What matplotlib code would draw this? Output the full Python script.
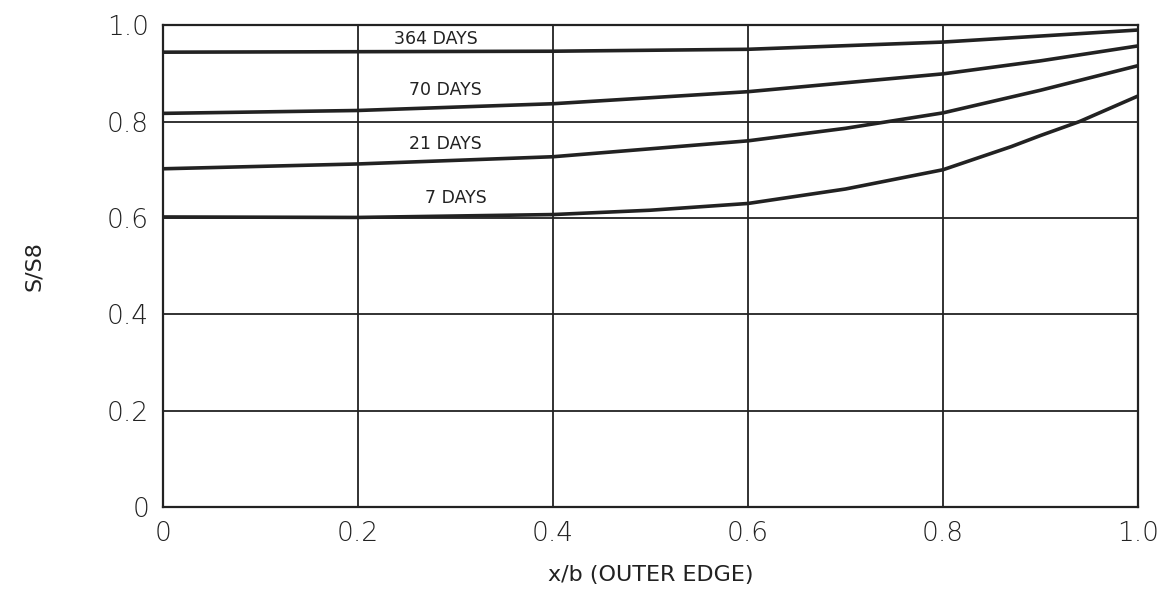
import matplotlib.pyplot as plt

x_364 = [0.0, 0.2, 0.4, 0.6, 0.8, 1.0]
y_364 = [0.944, 0.945, 0.946, 0.950, 0.965, 0.99]

x_70 = [0.0, 0.2, 0.4, 0.6, 0.8, 0.9, 1.0]
y_70 = [0.817, 0.823, 0.837, 0.862, 0.899, 0.926, 0.957]

x_21 = [0.0, 0.2, 0.4, 0.6, 0.7, 0.8, 0.9, 1.0]
y_21 = [0.702, 0.712, 0.727, 0.760, 0.786, 0.818, 0.865, 0.916]

x_7 = [0.0, 0.2, 0.4, 0.5, 0.6, 0.7, 0.8, 0.87, 0.9, 0.94, 1.0]
y_7 = [0.602, 0.601, 0.607, 0.616, 0.630, 0.660, 0.700, 0.748, 0.771, 0.800, 0.853]

labels = ["364 DAYS", "70 DAYS", "21 DAYS", "7 DAYS"]
label_x = [0.28, 0.29, 0.29, 0.30]
label_y = [0.972, 0.865, 0.753, 0.642]

ticks = [0, 0.2, 0.4, 0.6, 0.8, 1.0]
tick_labels = ["0", "0.2", "0.4", "0.6", "0.8", "1.0"]

plt.rcParams['font.family'] = ['DejaVu Sans']

fig = plt.figure(figsize=(11.75, 6), dpi=100)
ax = fig.add_axes([0.1387, 0.155, 0.8298, 0.803])

for xs, ys in [(x_364, y_364), (x_70, y_70), (x_21, y_21), (x_7, y_7)]:
    ax.plot(xs, ys, color="#222222", lw=2.6, zorder=3)

for i in range(len(labels)):
    ax.text(label_x[i], label_y[i], labels[i], ha="center", va="center",
            fontsize=12.5, color="#222222", zorder=4)

ax.set_xlim(0, 1.0)
ax.set_ylim(0, 1.0)
ax.set_xticks(ticks)
ax.set_yticks(ticks)
ax.set_xticklabels(tick_labels, fontsize=19, fontweight="light")
ax.set_yticklabels(tick_labels, fontsize=19, fontweight="light")
ax.tick_params(length=0, pad=10, colors="#222222")
ax.grid(True, color="#222222", lw=1.3)
for s in ax.spines.values():
    s.set_linewidth(1.6)
    s.set_color("#222222")

ax.set_xlabel("x/b (OUTER EDGE)", fontsize=16, labelpad=14, color="#222222")
ax.set_ylabel("S/S8", fontsize=16, labelpad=45, color="#222222")

plt.savefig("out.png", dpi=100)
